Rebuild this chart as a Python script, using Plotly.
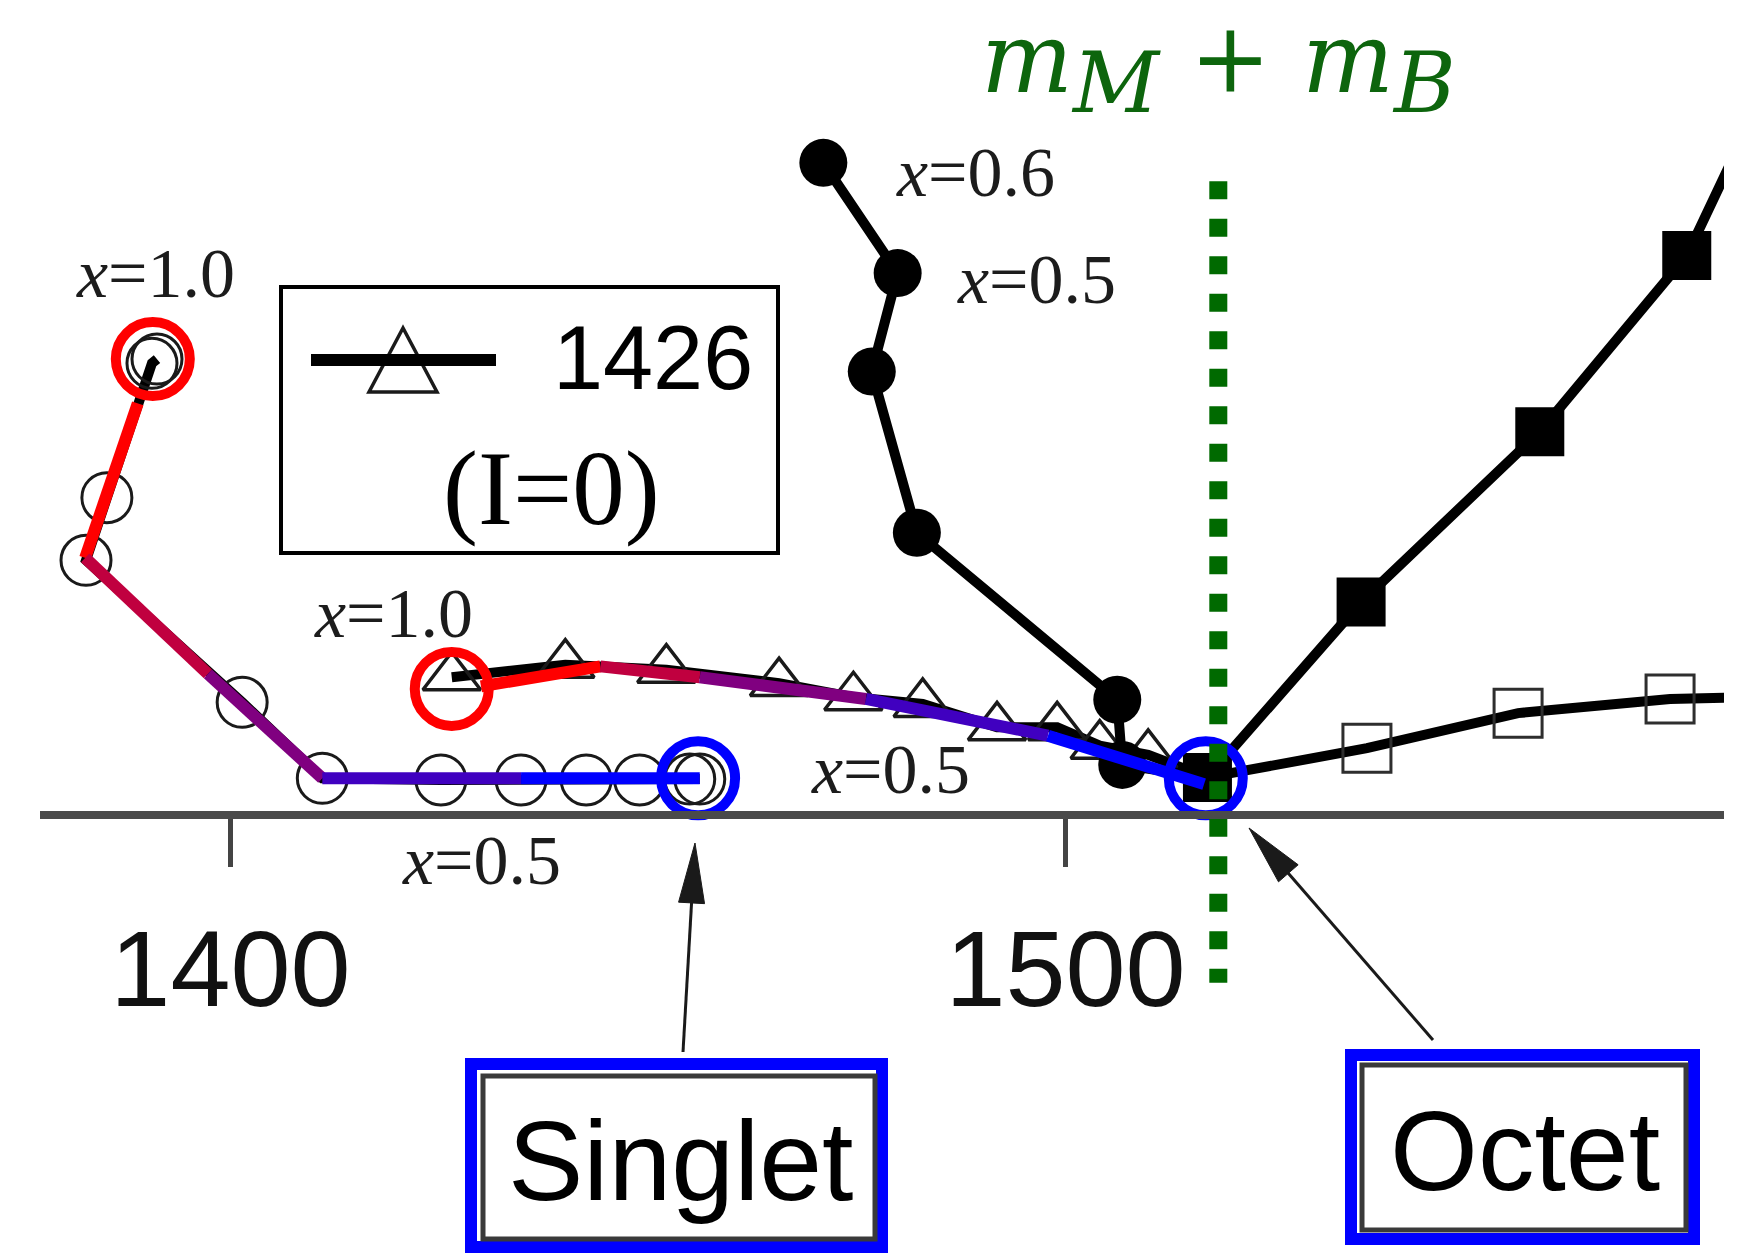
import plotly.graph_objects as go

W, H = 1746, 1253

# Pole positions (Re E, -Im E) in MeV along the SU(3) breaking path x: 1.0 -> 0.5
singlet_re = [1391.2, 1390.6, 1385.2, 1382.7, 1401.4, 1411.0, 1425.2, 1434.8, 1442.6, 1449.0, 1455.0, 1456.2]
singlet_im = [54.6, 54.1, 38.0, 30.5, 13.5, 4.4, 4.2, 4.2, 4.2, 4.2, 4.3, 4.3]

octet0_re = [1426.5, 1440.1, 1452.2, 1465.7, 1474.6, 1482.9, 1491.8, 1499.0, 1504.1, 1509.9, 1517.0]
octet0_im = [16.5, 18.0, 17.4, 15.8, 14.1, 13.3, 10.5, 10.5, 8.3, 7.2, 4.5]

fcirc_re = [1471.0, 1479.9, 1476.8, 1482.2, 1506.2, 1506.8, 1517.0]
fcirc_im = [78.1, 64.9, 53.1, 33.8, 13.8, 6.0, 4.5]

fsq_re = [1517.0, 1535.4, 1556.8, 1574.4, 1583.2]
fsq_im = [4.5, 25.5, 45.9, 67.0, 85.6]

osq_re = [1517.0, 1536.1, 1554.2, 1572.4, 1589.2]
osq_im = [4.5, 8.0, 12.2, 13.9, 14.3]

# colour-coded guide paths (x = 1.0 red ... x = 0.5 blue)
sing_path_re = [1388.9, 1382.6, 1397.3, 1411.0, 1434.8, 1456.2]
sing_path_im = [49.3, 30.8, 16.9, 4.4, 4.4, 4.4]
oct_path_re = [1430.0, 1444.3, 1456.2, 1476.1, 1497.9, 1516.6]
oct_path_im = [15.4, 17.8, 16.5, 13.9, 9.5, 3.7]
path_colors = ["#ff0000", "#c0003f", "#800080", "#4000c0", "#0000ff"]

# highlighted end points
red_re, red_im = [1390.7, 1426.5], [54.6, 15.1]
blue_re, blue_im = [1456.0, 1516.8], [4.4, 4.4]

threshold = 1518.3          # m_M + m_B
thr_span = [75.9, -20.1]

tick_vals = [1400, 1500]
tick_text = ["1400", "1500"]

INK = "#1a1a1a"
LW = 10
fig = go.Figure()


def series(xs, ys, symbol, size, color, skip_first=False, skip_last=False, mline=3):
    """black trajectory line plus its markers"""
    fig.add_trace(go.Scatter(x=xs, y=ys, mode="lines", line=dict(color="black", width=LW)))
    i0 = 1 if skip_first else 0
    i1 = len(xs) - 1 if skip_last else len(xs)
    fig.add_trace(go.Scatter(
        x=xs[i0:i1], y=ys[i0:i1], mode="markers",
        marker=dict(symbol=symbol, size=size, color=color, opacity=1,
                    line=dict(width=mline, color=color))))


series(singlet_re, singlet_im, "circle-open", 50, INK)
series(octet0_re, octet0_im, "triangle-up-open", 50, INK, skip_last=True, mline=3.5)
series(osq_re, osq_im, "square-open", 48, "#2e2e2e", skip_first=True)
series(fsq_re, fsq_im, "square", 49, "black", mline=0)
series(fcirc_re, fcirc_im, "circle", 48, "black", skip_last=True, mline=0)

# colour-graded guide paths
for pre, pim in [(sing_path_re, sing_path_im), (oct_path_re, oct_path_im)]:
    for i, col in enumerate(path_colors):
        fig.add_trace(go.Scatter(
            x=pre[i:i + 2], y=pim[i:i + 2], mode="lines",
            line=dict(color=col, width=12)))

# end-point rings
fig.add_trace(go.Scatter(
    x=red_re, y=red_im, mode="markers",
    marker=dict(symbol="circle-open", size=74, color="#ff0000", opacity=1,
                line=dict(width=10, color="#ff0000"))))
fig.add_trace(go.Scatter(
    x=blue_re, y=blue_im, mode="markers",
    marker=dict(symbol="circle-open", size=74, color="#0000ff", opacity=1,
                line=dict(width=10, color="#0000ff"))))

# threshold line
fig.add_trace(go.Scatter(
    x=[threshold, threshold], y=thr_span, mode="lines",
    line=dict(color="#006a00", width=18, dash="18px,19.5px")))


def pp(x, y):
    """pixel position -> paper fraction"""
    return x / W, 1 - y / H


shapes = []


def rect(x0, y0, x1, y1, color, width):
    a, b = pp(x0, y0)
    c, d = pp(x1, y1)
    shapes.append(dict(type="rect", xref="paper", yref="paper", x0=a, y0=b, x1=c, y1=d,
                       line=dict(color=color, width=width), fillcolor="rgba(0,0,0,0)"))


def poly(points, color, width, fill):
    s = ""
    for k, (x, y) in enumerate(points):
        a, b = pp(x, y)
        s += ("M" if k == 0 else "L") + f"{a:.5f},{b:.5f} "
    s += "Z"
    shapes.append(dict(type="path", xref="paper", yref="paper", path=s,
                       line=dict(color=color, width=width), fillcolor=fill))


def arrow(tail, tip, head_len, head_half, width, color):
    dx, dy = tip[0] - tail[0], tip[1] - tail[1]
    L = (dx * dx + dy * dy) ** 0.5
    ux, uy = dx / L, dy / L
    bx, by = tip[0] - ux * head_len, tip[1] - uy * head_len
    nx, ny = -uy, ux
    a, b = pp(*tail)
    c, d = pp(bx + ux * 4, by + uy * 4)
    shapes.append(dict(type="line", xref="paper", yref="paper", x0=a, y0=b, x1=c, y1=d,
                       line=dict(color=color, width=width)))
    poly([tip, (bx + nx * head_half, by + ny * head_half),
          (bx - nx * head_half, by - ny * head_half)], color, 1, color)


# legend box
rect(281, 287, 778, 553, "black", 4)
poly([(403, 328), (369, 392), (437, 392)], INK, 3.5, "white")
a, b = pp(311, 360)
c, d = pp(496, 360)
shapes.append(dict(type="line", xref="paper", yref="paper", x0=a, y0=b, x1=c, y1=d,
                   line=dict(color="black", width=12)))

# label boxes
rect(471, 1064, 882, 1247, "#0000ff", 12)
rect(483, 1076, 875, 1239, "#3a3a3a", 5)
rect(1351, 1055, 1694, 1239, "#0000ff", 12)
rect(1362, 1065, 1686, 1230, "#3a3a3a", 5)

# arrows
arrow((683, 1052), (695, 843), 60, 13, 3, "#1a1a1a")
arrow((1433, 1040), (1249, 828), 60, 13, 3, "#1a1a1a")

annotations = []


def xlabel(text, x, y):
    annotations.append(dict(x=x, y=y, xref="x", yref="y", text=text, showarrow=False,
                            xanchor="center", yanchor="middle",
                            font=dict(family="Liberation Serif", size=70, color="#1c1c1c")))


xlabel("<i>x</i>=1.0", 1391.0, 64.8)
xlabel("<i>x</i>=1.0", 1419.5, 24.1)
xlabel("<i>x</i>=0.5", 1430.1, -5.5)
xlabel("<i>x</i>=0.6", 1489.2, 77.0)
xlabel("<i>x</i>=0.5", 1496.5, 64.1)
xlabel("<i>x</i>=0.5", 1479.0, 5.4)


def ptext(text, x, y, family, size, color="black", yanchor="middle"):
    a, b = pp(x, y)
    annotations.append(dict(x=a, y=b, xref="paper", yref="paper", text=text, showarrow=False,
                            xanchor="center", yanchor=yanchor,
                            font=dict(family=family, size=size, color=color)))


ptext("1426", 653, 358, "Liberation Sans", 90)
ptext("(I=0)", 551, 488, "Liberation Serif", 105)
ptext("Singlet", 681, 1161, "Liberation Sans", 113)
ptext("Octet", 1525, 1151, "Liberation Sans", 113)
ptext("<i>m</i><sub><i><span style='font-size:84px'>M</span></i></sub> + "
      "<i>m</i><sub><i><span style='font-size:84px'>B</span></i></sub>",
      1218, 0, "DejaVu Serif", 97, "#0d650d", yanchor="top")

fig.update_layout(
    width=W, height=H, margin=dict(l=0, r=0, t=0, b=0),
    paper_bgcolor="white", plot_bgcolor="white", showlegend=False,
    shapes=shapes, annotations=annotations,
    xaxis=dict(range=[1377.19, 1578.86], domain=[40 / W, 1724 / W],
               anchor="free", position=438 / H,
               showgrid=False, zeroline=False, showline=True, linecolor="#4a4a4a", linewidth=8,
               ticks="outside", ticklen=48, tickwidth=5, tickcolor="#444444",
               tickvals=tick_vals, ticktext=tick_text, ticklabelstandoff=9,
               tickfont=dict(family="Liberation Sans", size=108, color="#111111")),
    yaxis=dict(range=[-52.455, 97.605], domain=[0, 1], visible=False),
)

fig.write_html("out.html")
